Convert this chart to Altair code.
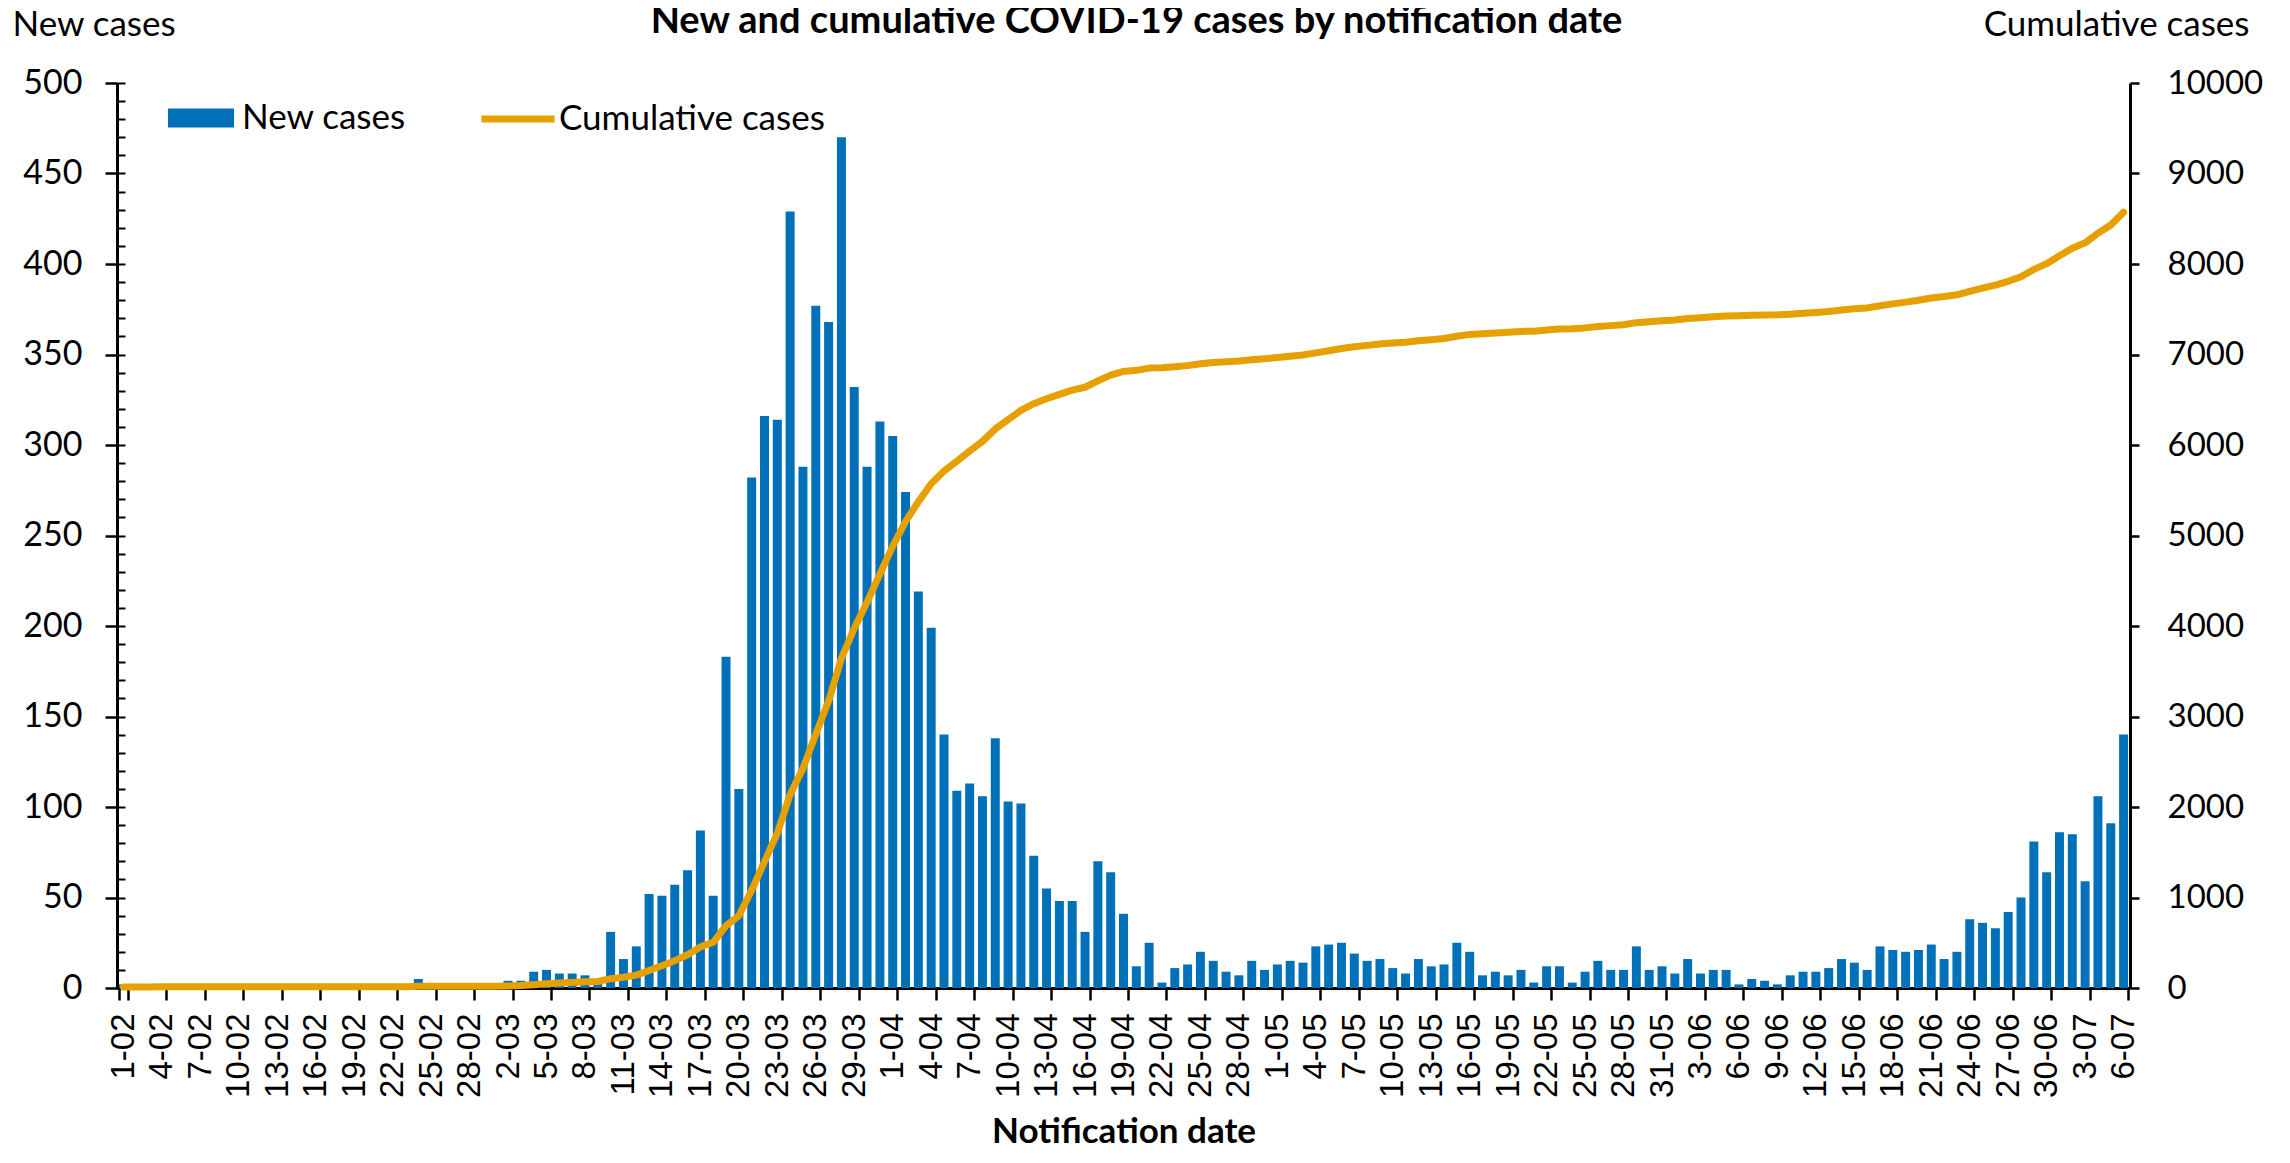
import altair as alt
import pandas as pd

# ---------------- data ----------------
FEB_NEW = [2, 0, 0, 1, 0, 0, 0, 0, 0, 0, 0, 0, 0, 0, 0, 0, 0, 0, 0, 0,
           0, 0, 0, 5, 0, 0, 0, 0, 0]
MAR_NEW = [1, 4, 4, 9, 10, 8, 8, 7, 3, 31,
           16, 23, 52, 51, 57, 65, 87, 51, 183, 110,
           282, 316, 314, 429, 288, 377, 368, 470, 332, 288, 313]
APR_NEW = [305, 274, 219, 199, 140, 109, 113, 106, 138, 103,
           102, 73, 55, 48, 48, 31, 70, 64, 41, 12,
           25, 3, 11, 13, 20, 15, 9, 7, 15, 10]
MAY_NEW = [13, 15, 14, 23, 24, 25, 19, 15, 16, 11,
           8, 16, 12, 13, 25, 20, 7, 9, 7, 10,
           3, 12, 12, 3, 9, 15, 10, 10, 23, 10, 12]
JUN_NEW = [8, 16, 8, 10, 10, 2, 5, 4, 2, 7,
           9, 9, 11, 16, 14, 10, 23, 21, 20, 21,
           24, 16, 20, 38, 36, 33, 42, 50, 81, 64]
JUL_NEW = [86, 85, 59, 106, 91, 140]
CASES_BEFORE_FEB = 10  # cumulative total before the first date shown

new_cases = FEB_NEW + MAR_NEW + APR_NEW + MAY_NEW + JUN_NEW + JUL_NEW
dates = pd.date_range("2020-02-01", "2020-07-06", freq="D")
labels = [f"{d.day}-{d.month:02d}" for d in dates]
assert len(labels) == len(new_cases)
tick_labels = labels[::3]

LEFT_TICKS = list(range(0, 501, 50))
LEFT_MINOR = list(range(0, 501, 10))
RIGHT_TICKS = list(range(0, 10001, 1000))

df = pd.DataFrame({"idx": list(range(len(labels))), "date": labels, "new": new_cases})

# ---------------- styling ----------------
FONT = "Lato"
TICK_FONT = "Liberation Sans"
BLUE = "#0070B8"
ORANGE = "#E6A000"
TXT = 35

x_enc = alt.X(
    "date:O",
    sort=labels,
    scale=alt.Scale(paddingInner=0.3, paddingOuter=0.15),
    axis=alt.Axis(
        values=tick_labels,
        labelAngle=270,
        labelFont=TICK_FONT,
        labelFontSize=33,
        labelPadding=13,
        tickSize=12,
        tickWidth=2.5,
        tickBand="extent",
        domainWidth=3,
        title="Notification date",
        titleFont=FONT,
        titleFontSize=TXT,
        titleFontWeight="bold",
        titleBaseline="alphabetic",
        titleY=154,
    ),
)

bars = (
    alt.Chart(df)
    .transform_calculate(series="'New cases'")
    .mark_bar()
    .encode(
        x=x_enc,
        y=alt.Y(
            "new:Q",
            scale=alt.Scale(domain=[0, 500], nice=False),
            axis=alt.Axis(
                orient="left",
                values=LEFT_TICKS,
                tickSize=12,
                tickWidth=2.5,
                domainWidth=3,
                labelPadding=23,
                labelFontSize=34,
                title="New cases",
                titleAngle=0,
                titleAlign="left",
                titleBaseline="alphabetic",
                titleFontWeight="normal",
                titleFontSize=TXT,
                titleX=-105,
                titleY=-48,
            ),
        ),
        color=alt.Color(
            "series:N",
            scale=alt.Scale(range=[BLUE]),
            legend=alt.Legend(
                orient="none",
                legendX=51,
                legendY=2,
                title=None,
                symbolType="M-1,-0.29H1V0.29H-1Z",
                symbolSize=4356,
                symbolStrokeWidth=0,
                labelOffset=8,
            ),
        ),
    )
)

minor = (
    alt.Chart(df)
    .mark_rule(opacity=0)
    .encode(
        y=alt.Y(
            "new:Q",
            scale=alt.Scale(domain=[0, 500], nice=False),
            axis=alt.Axis(
                orient="left",
                values=LEFT_MINOR,
                tickSize=8,
                tickWidth=2,
                offset=-8,
                labels=False,
                domain=False,
                title=None,
            ),
        )
    )
)

line = (
    alt.Chart(df)
    .transform_window(cum_new="sum(new)", sort=[alt.SortField("idx")], frame=[None, 0])
    .transform_calculate(
        cumulative=f"datum.cum_new + {CASES_BEFORE_FEB}",
        series2="'Cumulative cases'",
    )
    .mark_line(strokeWidth=7, strokeJoin="round", strokeCap="round")
    .encode(
        x=x_enc,
        y=alt.Y(
            "cumulative:Q",
            scale=alt.Scale(domain=[0, 10000], nice=False),
            axis=alt.Axis(
                orient="right",
                values=RIGHT_TICKS,
                format="d",
                tickSize=9,
                tickWidth=2.5,
                domainWidth=3,
                labelPadding=28,
                labelFontSize=33,
                title="Cumulative cases",
                titleAngle=0,
                titleAlign="right",
                titleBaseline="alphabetic",
                titleFontWeight="normal",
                titleFontSize=TXT,
                titleX=119,
                titleY=-48,
            ),
        ),
        stroke=alt.Stroke(
            "series2:N",
            scale=alt.Scale(range=[ORANGE]),
            legend=alt.Legend(
                orient="none",
                legendX=361,
                legendY=-4,
                title=None,
                symbolType="stroke",
                symbolSize=5329,
                symbolStrokeWidth=7,
                labelOffset=1,
            ),
        ),
    )
)

chart = (
    alt.layer(bars, line, minor)
    .resolve_scale(y="independent")
    .properties(
        width=2013,
        height=905,
        autosize=alt.AutoSizeParams(type="none"),
        padding={"left": 109, "top": 75, "right": 144, "bottom": 161},
        title=alt.TitleParams(
            text="New and cumulative COVID-19 cases by notification date",
            font=FONT,
            fontSize=38,
            fontWeight="bold",
            color="black",
            anchor="middle",
            baseline="alphabetic",
            frame="group",
            offset=0,
            dx=13,
            dy=64,
        ),
    )
    .configure_axis(
        grid=False,
        domainColor="black",
        tickColor="black",
        labelColor="black",
        titleColor="black",
        labelFont=FONT,
        titleFont=FONT,
    )
    .configure_legend(
        labelFont=FONT,
        labelFontSize=TXT,
        labelColor="black",
        padding=0,
        labelLimit=0,
    )
    .configure_view(stroke=None)
)

chart.save("out.html", embed_options={"renderer": "svg", "actions": False})
